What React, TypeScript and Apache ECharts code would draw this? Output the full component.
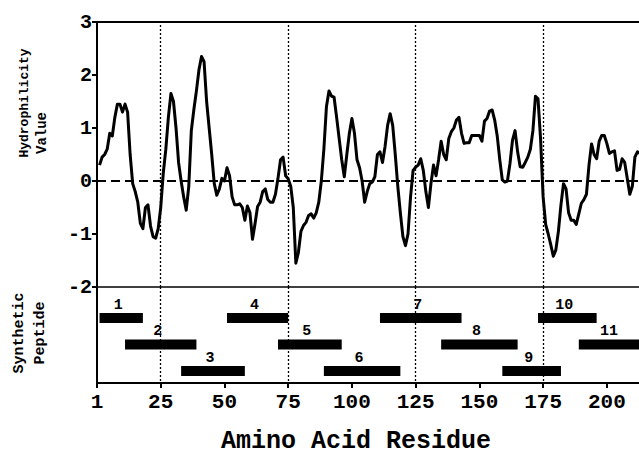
import React, { useEffect, useRef } from "react";
import * as echarts from "echarts";

// Hydrophilicity value per amino-acid residue (residue 1 .. 213)
const hydrophilicity: number[] = [
  0.3, 0.45, 0.5, 0.6, 0.9, 0.85, 1.2, 1.45, 1.45, 1.3,
  1.45, 1.3, 0.5, -0.05, -0.2, -0.4, -0.8, -0.9, -0.5, -0.45,
  -0.85, -1.05, -1.08, -0.9, -0.5, 0.15, 0.6, 1.2, 1.65, 1.5,
  1.0, 0.35, 0.0, -0.3, -0.55, -0.1, 0.95, 1.35, 1.7, 2.1,
  2.35, 2.25, 1.5, 1.0, 0.5, -0.05, -0.27, -0.15, 0.05, 0.0,
  0.25, 0.1, -0.3, -0.45, -0.45, -0.43, -0.5, -0.74, -0.47, -0.6,
  -1.1, -0.8, -0.48, -0.4, -0.2, -0.15, -0.35, -0.4, -0.4, -0.25,
  0.05, 0.4, 0.45, 0.1, 0.04, -0.1, -0.5, -1.55, -1.35, -0.95,
  -0.84, -0.78, -0.65, -0.62, -0.7, -0.6, -0.4, 0.0, 0.6, 1.4,
  1.7, 1.6, 1.58, 1.2, 0.8, 0.4, 0.08, 0.5, 0.9, 1.18,
  0.9, 0.4, 0.25, 0.0, -0.4, -0.2, -0.05, -0.02, 0.08, 0.5,
  0.55, 0.35, 0.65, 1.05, 1.27, 1.05, 0.5, -0.1, -0.6, -1.05,
  -1.22, -1.0, -0.3, 0.2, 0.26, 0.3, 0.42, 0.2, -0.2, -0.5,
  -0.05, 0.3, 0.1, 0.4, 0.75, 0.5, 0.4, 0.8, 0.93, 1.0,
  1.15, 1.2, 0.9, 0.71, 0.72, 0.72, 0.86, 0.86, 0.86, 0.86,
  0.75, 1.13, 1.18, 1.32, 1.34, 1.15, 0.85, 0.4, 0.02, -0.02,
  0.0, 0.33, 0.77, 0.95, 0.55, 0.27, 0.26, 0.35, 0.45, 0.6,
  0.95, 1.6, 1.55, 0.8, -0.3, -0.82, -1.0, -1.2, -1.42, -1.3,
  -0.95, -0.45, -0.05, -0.15, -0.6, -0.74, -0.74, -0.82, -0.62, -0.42,
  -0.35, -0.25, 0.3, 0.7, 0.5, 0.42, 0.75, 0.86, 0.86, 0.71,
  0.52, 0.55, 0.57, 0.2, 0.22, 0.42, 0.35, 0.05, -0.25, -0.1,
  0.45, 0.55, 0.52,
];

// Synthetic peptides
const peptideNames = ["1", "2", "3", "4", "5", "6", "7", "8", "9", "10", "11"];
const peptideStart = [1, 11, 33, 51, 71, 89, 111, 135, 159, 173, 189];
const peptideEnd = [18, 39, 58, 75, 96, 119, 143, 165, 182, 196, 215];
const peptideRow = [1, 2, 3, 1, 2, 3, 1, 2, 3, 1, 2];

// Axis ticks
const xTickValues = [0, 25, 50, 75, 100, 125, 150, 175, 200];
const xTickLabels = ["1", "25", "50", "75", "100", "125", "150", "175", "200"];
const refLines = [25, 75, 125, 175];

const FONT = "'Liberation Mono', 'Courier New', monospace";

export default function App() {
  const ref = useRef<HTMLDivElement>(null);

  useEffect(() => {
    if (!ref.current) return;
    const chart = echarts.init(ref.current, undefined, { renderer: "svg" });

    const lineData = hydrophilicity.map((v, i) => [i + 1, v]);
    const pepData = peptideNames.map((_, i) => [peptideStart[i], peptideEnd[i], peptideRow[i]]);

    const vLines = refLines.map((x) => ({ xAxis: x }));
    const dotted = { color: "#000", width: 1.3, type: [2, 2] as any };

    const xMax = 213.4;

    const option: any = {
      animation: false,
      backgroundColor: "#fff",
      grid: [
        { left: 97, right: -2, top: 22, height: 265, outerBoundsMode: "none", containLabel: false },
        { left: 97, right: -2, top: 287, height: 96, outerBoundsMode: "none", containLabel: false },
      ],
      xAxis: [
        {
          gridIndex: 0, type: "value", min: 0, max: xMax, position: "bottom",
          axisLine: { show: true, onZero: false, lineStyle: { color: "#000", width: 1.5 } },
          axisTick: { show: false }, axisLabel: { show: false }, splitLine: { show: false },
        },
        {
          gridIndex: 0, type: "value", min: 0, max: xMax, position: "top",
          axisLine: { show: true, onZero: false, lineStyle: { color: "#000", width: 2 } },
          axisTick: { show: false }, axisLabel: { show: false }, splitLine: { show: false },
        },
        {
          gridIndex: 1, type: "value", min: 0, max: xMax, interval: 25, position: "bottom",
          axisLine: { show: true, onZero: false, lineStyle: { color: "#000", width: 2 } },
          axisTick: { show: true, length: 5, lineStyle: { color: "#000", width: 2 } },
          axisLabel: {
            show: true, margin: 9, color: "#000", fontFamily: FONT, fontWeight: "bold", fontSize: 21,
            formatter: (v: number) => {
              const idx = xTickValues.indexOf(v);
              return idx >= 0 ? xTickLabels[idx] : "";
            },
          },
          splitLine: { show: false },
        },
      ],
      yAxis: [
        {
          gridIndex: 0, type: "value", min: -2, max: 3, interval: 1,
          axisLine: { show: true, onZero: false, lineStyle: { color: "#000", width: 2 } },
          axisTick: { show: true, length: 5, lineStyle: { color: "#000", width: 2 } },
          axisLabel: { show: true, margin: 5, color: "#000", fontFamily: FONT, fontWeight: "bold", fontSize: 20 },
          splitLine: { show: false },
        },
        {
          gridIndex: 1, type: "value", min: -0.17, max: 3.45, inverse: true,
          axisLine: { show: true, onZero: false, lineStyle: { color: "#000", width: 2 } },
          axisTick: { show: false }, axisLabel: { show: false }, splitLine: { show: false },
        },
      ],
      series: [
        {
          type: "line",
          xAxisIndex: 0,
          yAxisIndex: 0,
          data: lineData,
          symbol: "none",
          lineStyle: { color: "#000", width: 3, join: "round" },
          markLine: {
            silent: true,
            symbol: "none",
            label: { show: false },
            data: [
              ...vLines.map((d) => ({ ...d, lineStyle: dotted })),
              { yAxis: 0, lineStyle: { color: "#000", width: 1.8, type: [9, 5] } },
            ],
          },
          z: 3,
        },
        {
          type: "custom",
          xAxisIndex: 2,
          yAxisIndex: 1,
          data: pepData,
          encode: { x: [0, 1], y: 2 },
          renderItem: (params: any, api: any) => {
            const s = api.coord([api.value(0), api.value(2)]);
            const e = api.coord([api.value(1), api.value(2)]);
            const h = 10;
            return {
              type: "group",
              children: [
                {
                  type: "rect",
                  shape: { x: s[0], y: s[1] - h / 2, width: e[0] - s[0], height: h },
                  style: { fill: "#000" },
                },
                {
                  type: "text",
                  x: (s[0] + e[0]) / 2 - 3,
                  y: s[1] - 13,
                  style: {
                    text: peptideNames[params.dataIndex],
                    fill: "#000",
                    font: `bold 15px ${FONT}`,
                    align: "center",
                    verticalAlign: "middle",
                  },
                },
              ],
            };
          },
          markLine: {
            silent: true,
            symbol: "none",
            label: { show: false },
            data: vLines.map((d) => ({ ...d, lineStyle: dotted })),
          },
          z: 3,
        },
      ],
      graphic: [
        {
          type: "text", x: 24, y: 103, rotation: Math.PI / 2,
          style: { text: "Hydrophilicity", fill: "#000", font: `bold 13px ${FONT}`, align: "center", verticalAlign: "middle" },
        },
        {
          type: "text", x: 42, y: 133, rotation: Math.PI / 2,
          style: { text: "Value", fill: "#000", font: `bold 14px ${FONT}`, align: "center", verticalAlign: "middle" },
        },
        {
          type: "text", x: 19, y: 333, rotation: Math.PI / 2,
          style: { text: "Synthetic", fill: "#000", font: `bold 15px ${FONT}`, align: "center", verticalAlign: "middle" },
        },
        {
          type: "text", x: 40, y: 333, rotation: Math.PI / 2,
          style: { text: "Peptide", fill: "#000", font: `bold 15px ${FONT}`, align: "center", verticalAlign: "middle" },
        },
        {
          type: "text", x: 356, y: 441,
          style: { text: "Amino Acid Residue", fill: "#000", font: `bold 25px ${FONT}`, align: "center", verticalAlign: "middle" },
        },
      ],
    };

    chart.setOption(option);
    return () => chart.dispose();
  }, []);

  return (
    <div
      ref={ref}
      style={{ position: "absolute", left: 0, top: 0, width: 639, height: 458, background: "#fff" }}
    />
  );
}
